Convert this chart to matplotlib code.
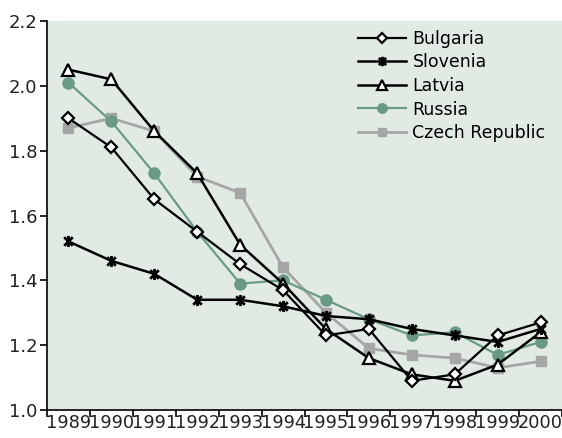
import matplotlib
matplotlib.use("Agg")
import matplotlib.pyplot as plt
import numpy as np
from matplotlib.path import Path

years = ["1989", "1990", "1991", "1992", "1993", "1994",
         "1995", "1996", "1997", "1998", "1999", "2000"]

bulgaria = [1.90, 1.81, 1.65, 1.55, 1.45, 1.37, 1.23, 1.25, 1.09, 1.11, 1.23, 1.27]
slovenia = [1.52, 1.46, 1.42, 1.34, 1.34, 1.32, 1.29, 1.28, 1.25, 1.23, 1.21, 1.25]
latvia = [2.05, 2.02, 1.86, 1.73, 1.51, 1.39, 1.25, 1.16, 1.11, 1.09, 1.14, 1.24]
russia = [2.01, 1.89, 1.73, 1.55, 1.39, 1.40, 1.34, 1.28, 1.23, 1.24, 1.17, 1.21]
czech = [1.87, 1.90, 1.86, 1.72, 1.67, 1.44, 1.30, 1.19, 1.17, 1.16, 1.13, 1.15]

plt.rcParams["font.family"] = ["DejaVu Sans"]

# excel-style star: an X with a vertical bar
star = Path([(-1, -1), (1, 1), (-1, 1), (1, -1), (0, -1.3), (0, 1.3)],
            [Path.MOVETO, Path.LINETO, Path.MOVETO, Path.LINETO,
             Path.MOVETO, Path.LINETO])

fig = plt.figure(figsize=(5.62, 4.38), dpi=100)
ax = fig.add_axes([47 / 562, 28 / 438, 1 - 47 / 562, 389 / 438])
ax.set_facecolor("#e1ebe4")

x = np.arange(len(years))
green = "#6a9a84"
grey = "#a6a6a6"

ax.plot(x, czech, color=grey, lw=2, marker="s", ms=7.5, mfc=grey, mec=grey,
        label="Czech Republic", zorder=2)
ax.plot(x, russia, color=green, lw=1.6, marker="o", ms=8, mfc=green, mec=green,
        label="Russia", zorder=3)
ax.plot(x, latvia, color="black", lw=1.8, marker="^", ms=9, mfc="white",
        mec="black", mew=1.6, label="Latvia", zorder=4)
ax.plot(x, slovenia, color="black", lw=1.8, marker=star, ms=8, mec="black",
        mew=2, label="Slovenia", zorder=5)
ax.plot(x, bulgaria, color="black", lw=1.6, marker="D", ms=6.5, mfc="white",
        mec="black", mew=1.6, label="Bulgaria", zorder=6)

ax.set_xlim(-0.5, len(years) - 0.5)
ax.set_ylim(1.0, 2.2)
yt = np.arange(1.0, 2.21, 0.2)
ax.set_yticks(yt)
ax.set_yticklabels([f"{v:.1f}" for v in yt], fontsize=13, color="#222222")
ax.set_xticks(np.arange(-0.5, len(years), 1.0))
ax.set_xticklabels([])
ax.set_xticks(x, minor=True)
ax.set_xticklabels(years, minor=True, fontsize=12.8, color="#222222")
ax.tick_params(axis="x", which="major", length=5, width=1.2, direction="out")
ax.tick_params(axis="x", which="minor", length=0, pad=3)
ax.tick_params(axis="y", length=5, width=1.2, direction="out", pad=2)

for side in ("top", "right"):
    ax.spines[side].set_visible(False)
for side in ("left", "bottom"):
    ax.spines[side].set_linewidth(1.2)

handles, labels = ax.get_legend_handles_labels()
ax.legend(handles[::-1], labels[::-1], loc="upper left",
          bbox_to_anchor=(0.59, 0.995), frameon=False, fontsize=12.5,
          handlelength=2.8, handletextpad=0.35, labelspacing=0.32,
          borderaxespad=0, markerscale=0.85)

fig.savefig("out.png", dpi=100)
